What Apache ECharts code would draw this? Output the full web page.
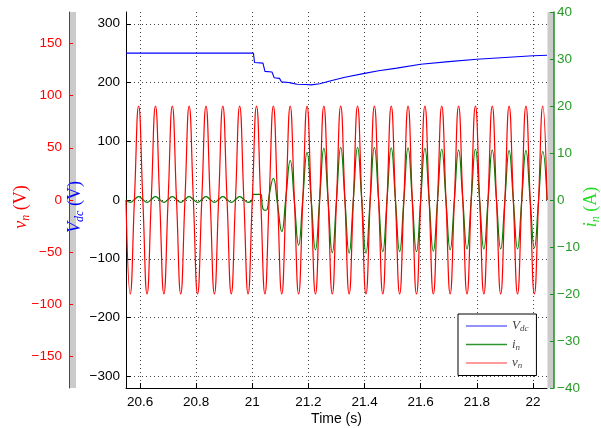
<!DOCTYPE html>
<html>
<head>
<meta charset="utf-8">
<script src="https://cdn.jsdelivr.net/npm/echarts@6/dist/echarts.min.js"></script>
<style>
  html, body { margin: 0; padding: 0; background: #fff; }
  #chart { width: 601px; height: 428px; }
</style>
</head>
<body>
<div id="chart"></div>
<script>
// Axis tick values
const timeTicks = [20.6, 20.8, 21, 21.2, 21.4, 21.6, 21.8, 22];
const vdcTicks = [-300, -200, -100, 0, 100, 200, 300];
const vnTicks = [-150, -100, -50, 0, 50, 100, 150];
const inTicks = [-40, -30, -20, -10, 0, 10, 20, 30, 40];

// DC-link voltage V_dc (V)
const vdcTime = [20.55, 21.004, 21.008, 21.038, 21.045, 21.07, 21.078, 21.097, 21.104, 21.13,
  21.14, 21.16, 21.19, 21.21, 21.24, 21.28, 21.33, 21.40, 21.45, 21.515,
  21.6, 21.7, 21.8, 21.9, 22.0, 22.05];
const vdcValues = [250, 250, 234, 233, 219, 218, 208, 207, 201, 200,
  199, 197, 196.5, 196, 198, 203, 209, 215.5, 220, 224.5,
  231, 235.5, 239.5, 242.5, 245.5, 246.5];

// Grid voltage v_n (V): samples at peaks, troughs and zero crossings
const vnTime = [20.55, 20.565, 20.58, 20.595, 20.61, 20.625, 20.64, 20.655, 20.67, 20.685,
  20.7, 20.715, 20.73, 20.745, 20.76, 20.775, 20.79, 20.805, 20.82, 20.835,
  20.85, 20.865, 20.88, 20.895, 20.91, 20.925, 20.94, 20.955, 20.97, 20.985,
  21.0, 21.015, 21.03, 21.045, 21.06, 21.075, 21.09, 21.105, 21.12, 21.135,
  21.15, 21.165, 21.18, 21.195, 21.21, 21.225, 21.24, 21.255, 21.27, 21.285,
  21.3, 21.315, 21.33, 21.345, 21.36, 21.375, 21.39, 21.405, 21.42, 21.435,
  21.45, 21.465, 21.48, 21.495, 21.51, 21.525, 21.54, 21.555, 21.57, 21.585,
  21.6, 21.615, 21.63, 21.645, 21.66, 21.675, 21.69, 21.705, 21.72, 21.735,
  21.75, 21.765, 21.78, 21.795, 21.81, 21.825, 21.84, 21.855, 21.87, 21.885,
  21.9, 21.915, 21.93, 21.945, 21.96, 21.975, 21.99, 22.005, 22.02, 22.035,
  22.05];
const vnValues = [0, -90, 0, 90, 0, -90, 0, 90, 0, -90,
  0, 90, 0, -90, 0, 90, 0, -90, 0, 90,
  0, -90, 0, 90, 0, -90, 0, 90, 0, -90,
  0, 90, 0, -90, 0, 90, 0, -90, 0, 90,
  0, -90, 0, 90, 0, -90, 0, 90, 0, -90,
  0, 90, 0, -90, 0, 90, 0, -90, 0, 90,
  0, -90, 0, 90, 0, -90, 0, 90, 0, -90,
  0, 90, 0, -90, 0, 90, 0, -90, 0, 90,
  0, -90, 0, 90, 0, -90, 0, 90, 0, -90,
  0, 90, 0, -90, 0, 90, 0, -90, 0, 90,
  0];

// Injected current i_n (A)
const inTime = [20.55, 20.565, 20.58, 20.595, 20.61, 20.625, 20.64, 20.655, 20.67, 20.685,
  20.7, 20.715, 20.73, 20.745, 20.76, 20.775, 20.79, 20.805, 20.82, 20.835,
  20.85, 20.865, 20.88, 20.895, 20.91, 20.925, 20.94, 20.955, 20.97, 20.985,
  21.0, 21.003, 21.03, 21.037, 21.045, 21.053, 21.06, 21.075, 21.09, 21.105,
  21.12, 21.135, 21.15, 21.165, 21.18, 21.195, 21.21, 21.225, 21.24, 21.255,
  21.27, 21.285, 21.3, 21.315, 21.33, 21.345, 21.36, 21.375, 21.39, 21.405,
  21.42, 21.435, 21.45, 21.465, 21.48, 21.495, 21.51, 21.525, 21.54, 21.555,
  21.57, 21.585, 21.6, 21.615, 21.63, 21.645, 21.66, 21.675, 21.69, 21.705,
  21.72, 21.735, 21.75, 21.765, 21.78, 21.795, 21.81, 21.825, 21.84, 21.855,
  21.87, 21.885, 21.9, 21.915, 21.93, 21.945, 21.96, 21.975, 21.99, 22.005,
  22.02, 22.035, 22.05];
const inValues = [0.1, -0.5, 0.1, 0.7, 0.1, -0.5, 0.1, 0.7, 0.1, -0.5,
  0.1, 0.7, 0.1, -0.5, 0.1, 0.7, 0.1, -0.5, 0.1, 0.7,
  0.1, -0.5, 0.1, 0.7, 0.1, -0.5, 0.1, 0.7, 0.1, -0.5,
  0.1, 1.2, 1.2, -1.7, -2.2, -2.0, 1.0, 4.6, -1.0, -6.7,
  0.8, 8.4, -0.5, -9.6, 0.3, 10.1, 0, -10.6, 0.2, 11.0,
  0, -11.2, 0, 11.2, 0, -11.3, 0, 11.2, 0, -11.3,
  0, 11.2, 0, -11.0, 0, 11.1, 0, -11.0, 0, 11.1,
  0, -11.0, 0, 11.0, 0, -10.9, 0, 10.8, 0, -10.6,
  0, 10.6, 0, -10.4, 0, 10.8, 0, -10.4, 0, 10.6,
  0, -10.4, 0, 10.5, 0, -10.4, 0, 10.5, 0, -10.2,
  0, 10.3, 0];

const pairs = (t, v) => t.map((x, i) => [x, v[i]]);

const serif = 'Liberation Serif';
const sans = 'Liberation Sans';

function nameStyle(color) {
  return {
    padding: [0, 14, 0, 0],
    rich: {
      it: { fontFamily: serif, fontStyle: 'italic', fontSize: 18, color: color },
      sub: { fontFamily: serif, fontStyle: 'italic', fontSize: 12, color: color, padding: [9, 0, 0, 0] },
      rm: { fontFamily: serif, fontSize: 18, color: color }
    }
  };
}

// Tick labels: trimmed decimals, typographic minus sign
const fmtTick = v => String(+Number(v).toFixed(2)).replace('-', '\u2212');
const dotted = { show: true, lineStyle: { color: '#444', type: [1, 3], width: 1 } };

const chart = echarts.init(document.getElementById('chart'), null, { renderer: 'canvas' });

chart.setOption({
  animation: false,
  backgroundColor: '#fff',
  grid: { left: 126, top: 12, width: 421, height: 376, containLabel: false, outerBoundsMode: 'none' },
  graphic: [
    { type: 'rect', z: -10, shape: { x: 69, y: 12, width: 7, height: 376 }, style: { fill: '#cbcbcb' } },
    { type: 'rect', z: -10, shape: { x: 547.5, y: 12, width: 6.5, height: 376 }, style: { fill: '#cbcbcb' } }
  ],
  xAxis: {
    type: 'value', min: 20.55, max: 22.05,
    axisLine: { show: true, onZero: false, lineStyle: { color: '#000', width: 1 } },
    axisTick: { show: true, inside: true, length: 5, customValues: timeTicks, lineStyle: { color: '#000' } },
    axisLabel: { customValues: timeTicks, formatter: fmtTick, color: '#000', fontFamily: sans, fontSize: 13.5, margin: 7 },
    splitLine: dotted,
    name: 'Time (s)', nameLocation: 'middle', nameGap: 24, nameMoveOverlap: false,
    nameTextStyle: { color: '#000', fontFamily: sans, fontSize: 14 }
  },
  yAxis: [
    {
      type: 'value', position: 'left', min: -320, max: 320,
      axisLine: { show: true, onZero: false, lineStyle: { color: '#000', width: 1 } },
      axisTick: { show: true, inside: true, length: 5, customValues: vdcTicks, lineStyle: { color: '#000' } },
      axisLabel: { customValues: vdcTicks, formatter: fmtTick, color: '#000', fontFamily: sans, fontSize: 13.5, margin: 6 },
      splitLine: dotted,
      name: '{it|V}{sub|dc}{rm| (V)}', nameLocation: 'middle', nameRotate: 90, nameGap: 40,
      nameMoveOverlap: false,
      nameTextStyle: nameStyle('#0000ff')
    },
    {
      type: 'value', position: 'left', offset: 57, min: -180, max: 180,
      axisLine: { show: true, onZero: false, lineStyle: { color: '#ff0000', width: 1 } },
      axisTick: { show: true, inside: true, length: 4, customValues: vnTicks, lineStyle: { color: '#ff0000' } },
      axisLabel: { customValues: vnTicks, formatter: fmtTick, color: '#ff0000', fontFamily: sans, fontSize: 13.5, margin: 7 },
      splitLine: { show: false },
      name: '{it|v}{sub|n}{rm| (V)}', nameLocation: 'middle', nameRotate: 90, nameGap: 37,
      nameMoveOverlap: false,
      nameTextStyle: nameStyle('#ff0000')
    },
    {
      type: 'value', position: 'right', offset: 7, min: -40, max: 40,
      axisLine: { show: true, onZero: false, lineStyle: { color: '#1f8f1f', width: 1.5 } },
      axisTick: { show: true, inside: true, length: 4, customValues: inTicks, lineStyle: { color: '#1f8f1f' } },
      axisLabel: { customValues: inTicks, formatter: fmtTick, color: '#259b25', fontFamily: sans, fontSize: 13.5, margin: 3 },
      splitLine: { show: false },
      name: '{it|i}{sub|n}{rm| (A)}', nameLocation: 'middle', nameRotate: 90, nameGap: 27,
      nameMoveOverlap: false,
      nameTextStyle: nameStyle('#22dd22')
    }
  ],
  legend: {
    orient: 'vertical', left: 458, top: 314,
    padding: [5, 8, 5, 8], itemGap: 4, itemWidth: 41, itemHeight: 1.5,
    icon: 'rect',
    borderColor: '#000', borderWidth: 1, backgroundColor: '#fff',
    data: [
      { name: 'Vdc', itemStyle: { color: '#6b6bff' } },
      { name: 'in', itemStyle: { color: '#2f962f' } },
      { name: 'vn', itemStyle: { color: '#ff7a7a' } }
    ],
    formatter: n => ({ Vdc: '{a|V}{b|dc}', in: '{a|i}{b|n}', vn: '{a|v}{b|n}' })[n],
    textStyle: {
      color: '#444', lineHeight: 14,
      rich: {
        a: { fontFamily: serif, fontStyle: 'italic', fontSize: 13, color: '#444' },
        b: { fontFamily: serif, fontStyle: 'italic', fontSize: 9, color: '#444', padding: [6, 0, 0, 0] }
      }
    }
  },
  series: [
    {
      name: 'Vdc', type: 'line', xAxisIndex: 0, yAxisIndex: 0,
      data: pairs(vdcTime, vdcValues), showSymbol: false, symbol: 'none',
      lineStyle: { color: '#0000ff', width: 1.1 }, itemStyle: { color: '#0000ff' }, z: 2
    },
    {
      name: 'in', type: 'line', xAxisIndex: 0, yAxisIndex: 2,
      data: pairs(inTime, inValues), showSymbol: false, symbol: 'none',
      smooth: 0.5,
      lineStyle: { color: '#008000', width: 1.2 }, itemStyle: { color: '#008000' }, z: 3
    },
    {
      name: 'vn', type: 'line', xAxisIndex: 0, yAxisIndex: 1,
      data: pairs(vnTime, vnValues), showSymbol: false, symbol: 'none',
      smooth: 0.5,
      lineStyle: { color: '#ff0000', width: 1.2 }, itemStyle: { color: '#ff0000' }, z: 4
    }
  ]
});
</script>
</body>
</html>
